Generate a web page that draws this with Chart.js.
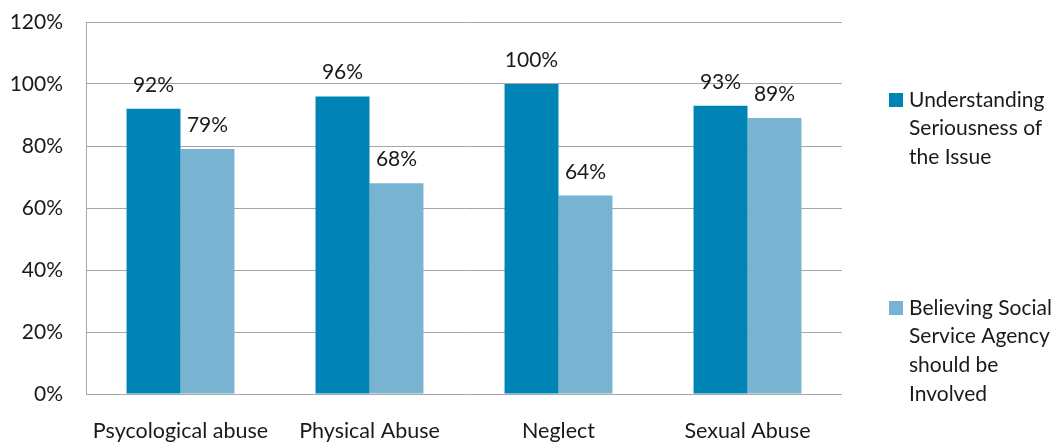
<!DOCTYPE html>
<html>
<head>
<meta charset="utf-8">
<script src="https://cdn.jsdelivr.net/npm/chart.js@4"></script>
<style>
  html, body { margin: 0; padding: 0; background: #fff; }
  #wrap { width: 1059px; height: 443px; }
</style>
</head>
<body>
<div id="wrap"><canvas id="abuseChart" width="1059" height="443"></canvas></div>
<script>
// Survey results by abuse type
const categories = ['Psycological abuse', 'Physical Abuse', 'Neglect', 'Sexual Abuse'];
const understanding = [92, 96, 100, 93];
const believingAgency = [79, 68, 64, 89];
const seriesLines = [
    ['Understanding', 'Seriousness of', 'the Issue'],
    ['Believing Social', 'Service Agency', 'should be', 'Involved']
];
const yTicks = [0, 20, 40, 60, 80, 100, 120];
const colors = ['#0084b5', '#78b4d1'];

const FONT = 'Lato, "Liberation Sans", sans-serif';

// value labels above each bar
const barLabels = {
    id: 'barLabels',
    afterDatasetsDraw(chart) {
        const ctx = chart.ctx;
        ctx.save();
        ctx.font = '21px ' + FONT;
        ctx.fillStyle = '#1a1a1a';
        ctx.textAlign = 'center';
        ctx.textBaseline = 'alphabetic';
        chart.data.datasets.forEach(function(ds, i) {
            chart.getDatasetMeta(i).data.forEach(function(bar, j) {
                ctx.fillText(ds.data[j] + '%', bar.x, bar.y - 17);
            });
        });
        ctx.restore();
    }
};

// wrapped legend on the right side
const sideLegend = {
    id: 'sideLegend',
    afterDraw(chart) {
        const ctx = chart.ctx;
        const x = 889, lineH = 28.7;
        const tops = [100, 308];
        ctx.save();
        ctx.font = '21px ' + FONT;
        ctx.fillStyle = '#1a1a1a';
        ctx.textBaseline = 'middle';
        seriesLines.forEach(function(lines, i) {
            ctx.fillStyle = colors[i];
            ctx.fillRect(x, tops[i] - 7, 14, 14);
            ctx.fillStyle = '#1a1a1a';
            lines.forEach(function(t, k) {
                ctx.fillText(t, x + 20, tops[i] + k * lineH);
            });
        });
        ctx.restore();
    }
};

new Chart(document.getElementById('abuseChart'), {
    type: 'bar',
    data: {
        labels: categories,
        datasets: [
            { label: seriesLines[0].join(' '), data: understanding, backgroundColor: colors[0] },
            { label: seriesLines[1].join(' '), data: believingAgency, backgroundColor: colors[1] }
        ]
    },
    options: {
        responsive: false,
        animation: false,
        devicePixelRatio: 1,
        layout: { padding: { top: 22, right: 217, left: 0, bottom: 0 } },
        plugins: { legend: { display: false }, tooltip: { enabled: false } },
        datasets: { bar: { categoryPercentage: 0.571, barPercentage: 1.0 } },
        scales: {
            x: {
                grid: { display: false, drawTicks: false },
                border: { display: false },
                ticks: { color: '#1a1a1a', font: { family: FONT, size: 21.5 }, padding: 24, maxRotation: 0 },
                afterFit(scale) { scale.height = 49; }
            },
            y: {
                min: 0,
                max: 120,
                afterBuildTicks(scale) { scale.ticks = yTicks.map(v => ({ value: v })); },
                grid: { color: '#a6a6a6', lineWidth: 1, drawTicks: false },
                border: { display: true, color: '#a6a6a6', width: 1 },
                ticks: {
                    color: '#1a1a1a',
                    font: { family: FONT, size: 21 },
                    padding: 23,
                    callback: v => v + '%'
                },
                afterFit(scale) {
                    scale.width = 86;
                    scale.paddingTop = 0;
                    scale.paddingBottom = 0;
                }
            }
        }
    },
    plugins: [barLabels, sideLegend]
});
</script>
</body>
</html>
